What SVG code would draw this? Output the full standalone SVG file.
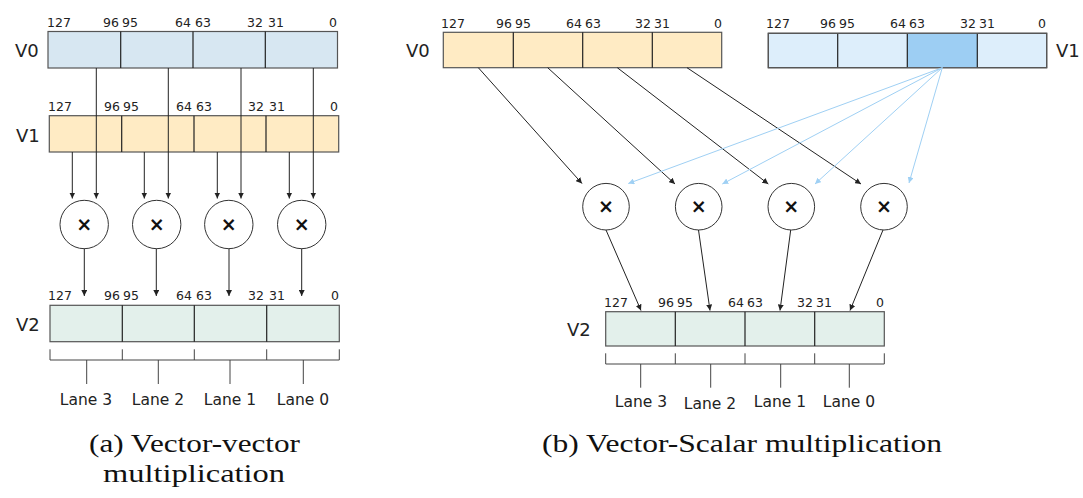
<svg xmlns="http://www.w3.org/2000/svg" width="1083" height="498" viewBox="0 0 1083 498">
<style>
.bits{font-family:"DejaVu Sans","Noto Sans",sans-serif;font-size:12.5px;fill:#222}
.reg{font-family:"DejaVu Sans","Noto Sans",sans-serif;font-size:18px;fill:#222}
.lane{font-family:"DejaVu Sans","Noto Sans",sans-serif;font-size:15.5px;fill:#222;text-anchor:middle}
.cap{font-family:"Liberation Serif",serif;font-size:25px;fill:#111;text-anchor:middle}
.box{stroke:#555;stroke-width:1.2}
.div{stroke:#222;stroke-width:1.2}
.circ{fill:#fff;stroke:#333;stroke-width:1}
.mul{font-family:"DejaVu Sans",sans-serif;font-size:19px;font-weight:bold;fill:#111;text-anchor:middle}
.k{stroke:#222;stroke-width:1;fill:none}
.b{stroke:#9fd0f4;stroke-width:1;fill:none}
.br{stroke:#444;stroke-width:1;fill:none}
</style>
<defs>
<marker id="ak" markerUnits="userSpaceOnUse" markerWidth="7" markerHeight="6" refX="6" refY="3" orient="auto"><path d="M0,0 L6,3 L0,6 z" fill="#222"/></marker>
<marker id="ab" markerUnits="userSpaceOnUse" markerWidth="7" markerHeight="6" refX="6" refY="3" orient="auto"><path d="M0,0 L6,3 L0,6 z" fill="#9fd0f4"/></marker>
</defs>
<rect width="1083" height="498" fill="#fff"/>

<!-- LEFT -->
<g id="a-v0">
<text class="reg" x="15" y="57">V0</text>
<rect class="box" x="48" y="31.5" width="289.5" height="36.5" fill="#d7e7f2"/>
<path class="div" d="M120.7,31.5V68M193,31.5V68M265.3,31.5V68"/>
<text class="bits" x="47" y="27">127</text>
<text class="bits" x="119" y="27" text-anchor="end">96</text>
<text class="bits" x="122" y="27">95</text>
<text class="bits" x="191" y="27" text-anchor="end">64</text>
<text class="bits" x="195" y="27">63</text>
<text class="bits" x="263" y="27" text-anchor="end">32</text>
<text class="bits" x="268" y="27">31</text>
<text class="bits" x="337" y="27" text-anchor="end">0</text>
</g>
<g id="a-v1">
<text class="reg" x="16" y="142">V1</text>
<rect class="box" x="49.3" y="115.7" width="289.4" height="36.3" fill="#ffebc4"/>
<path class="div" d="M121.7,115.7V152M194,115.7V152M266,115.7V152"/>
<text class="bits" x="48" y="111">127</text>
<text class="bits" x="120" y="111" text-anchor="end">96</text>
<text class="bits" x="123" y="111">95</text>
<text class="bits" x="192" y="111" text-anchor="end">64</text>
<text class="bits" x="196" y="111">63</text>
<text class="bits" x="264" y="111" text-anchor="end">32</text>
<text class="bits" x="269" y="111">31</text>
<text class="bits" x="338" y="111" text-anchor="end">0</text>
</g>
<g id="a-m3"><circle class="circ" cx="84.2" cy="224.5" r="24.2"/><text class="mul" x="84.2" y="231">×</text></g>
<g id="a-m2"><circle class="circ" cx="156.7" cy="224.5" r="24.2"/><text class="mul" x="156.7" y="231">×</text></g>
<g id="a-m1"><circle class="circ" cx="228.8" cy="224.5" r="24.2"/><text class="mul" x="228.8" y="231">×</text></g>
<g id="a-m0"><circle class="circ" cx="301.7" cy="224.5" r="24.2"/><text class="mul" x="301.7" y="231">×</text></g>
<g id="a-v2">
<text class="reg" x="16" y="331">V2</text>
<rect class="box" x="50" y="305.3" width="289.3" height="36.4" fill="#e3f0eb"/>
<path class="div" d="M122.3,305.3V341.7M194.3,305.3V341.7M266.7,305.3V341.7"/>
<text class="bits" x="48" y="300">127</text>
<text class="bits" x="120" y="300" text-anchor="end">96</text>
<text class="bits" x="123" y="300">95</text>
<text class="bits" x="192" y="300" text-anchor="end">64</text>
<text class="bits" x="196" y="300">63</text>
<text class="bits" x="264" y="300" text-anchor="end">32</text>
<text class="bits" x="269" y="300">31</text>
<text class="bits" x="339" y="300" text-anchor="end">0</text>
</g>
<g id="a-lanes">
<path class="br" d="M50,349.3V360H339.3V349.3M122.3,349.3V360M194.3,349.3V360M266.7,349.3V360M86.7,360V384M158.3,360V384M230,360V384M303.3,360V384"/>
<text class="lane" x="86" y="405">Lane 3</text>
<text class="lane" x="158" y="405">Lane 2</text>
<text class="lane" x="230" y="405">Lane 1</text>
<text class="lane" x="303" y="405">Lane 0</text>
</g>

<!-- RIGHT -->
<g id="b-v0">
<text class="reg" x="406" y="57">V0</text>
<rect class="box" x="443.3" y="32.3" width="278.4" height="35.4" fill="#ffebc4"/>
<path class="div" d="M513.3,32.3V67.7M582.7,32.3V67.7M652.3,32.3V67.7"/>
<text class="bits" x="441" y="28">127</text>
<text class="bits" x="512" y="28" text-anchor="end">96</text>
<text class="bits" x="515" y="28">95</text>
<text class="bits" x="582" y="28" text-anchor="end">64</text>
<text class="bits" x="585" y="28">63</text>
<text class="bits" x="651" y="28" text-anchor="end">32</text>
<text class="bits" x="654" y="28">31</text>
<text class="bits" x="722" y="28" text-anchor="end">0</text>
</g>
<g id="b-v1">
<rect class="box" x="768.3" y="33.3" width="278.4" height="34.4" fill="#ddeefb"/>
<rect x="907.3" y="33.3" width="70" height="34.4" fill="#9dcef3"/>
<path class="div" d="M837.7,33.3V67.7M907.3,33.3V67.7M977.3,33.3V67.7"/>
<rect x="768.3" y="33.3" width="278.4" height="34.4" fill="none" stroke="#555" stroke-width="1.2"/>
<text class="reg" x="1056" y="57">V1</text>
<text class="bits" x="766" y="28">127</text>
<text class="bits" x="836" y="28" text-anchor="end">96</text>
<text class="bits" x="839" y="28">95</text>
<text class="bits" x="906" y="28" text-anchor="end">64</text>
<text class="bits" x="909" y="28">63</text>
<text class="bits" x="976" y="28" text-anchor="end">32</text>
<text class="bits" x="979" y="28">31</text>
<text class="bits" x="1046" y="28" text-anchor="end">0</text>
</g>
<g id="b-m3"><circle class="circ" cx="606" cy="206.7" r="23.3"/><text class="mul" x="606" y="213">×</text></g>
<g id="b-m2"><circle class="circ" cx="698.7" cy="206.7" r="23.3"/><text class="mul" x="698.7" y="213">×</text></g>
<g id="b-m1"><circle class="circ" cx="791.3" cy="206.7" r="23.3"/><text class="mul" x="791.3" y="213">×</text></g>
<g id="b-m0"><circle class="circ" cx="884" cy="206.7" r="23.3"/><text class="mul" x="884" y="213">×</text></g>
<g id="b-v2">
<text class="reg" x="567" y="336">V2</text>
<rect class="box" x="605.7" y="311.7" width="278.6" height="34.3" fill="#e3f0eb"/>
<path class="div" d="M675.3,311.7V346M745,311.7V346M814.7,311.7V346"/>
<text class="bits" x="604" y="306.7">127</text>
<text class="bits" x="674" y="306.7" text-anchor="end">96</text>
<text class="bits" x="677" y="306.7">95</text>
<text class="bits" x="744" y="306.7" text-anchor="end">64</text>
<text class="bits" x="747" y="306.7">63</text>
<text class="bits" x="813" y="306.7" text-anchor="end">32</text>
<text class="bits" x="816" y="306.7">31</text>
<text class="bits" x="884" y="306.7" text-anchor="end">0</text>
</g>
<g id="b-lanes">
<path class="br" d="M605.7,353.3V364H884.3V353.3M675.3,353.3V364M745,353.3V364M814.7,353.3V364M640.7,364V387.7M710.7,364V387.7M780.7,364V387.7M849.3,364V387.7"/>
<text class="lane" x="641" y="407">Lane 3</text>
<text class="lane" x="710" y="409">Lane 2</text>
<text class="lane" x="780" y="407">Lane 1</text>
<text class="lane" x="849" y="407">Lane 0</text>
</g>

<g id="connectors">
<path class="k" marker-end="url(#ak)" d="M96.3,68V198.5"/>
<path class="k" marker-end="url(#ak)" d="M168.3,68V198.5"/>
<path class="k" marker-end="url(#ak)" d="M241,68V198.5"/>
<path class="k" marker-end="url(#ak)" d="M313.3,68V198.5"/>
<path class="k" marker-end="url(#ak)" d="M72.3,152V198.5"/>
<path class="k" marker-end="url(#ak)" d="M144.3,152V198.5"/>
<path class="k" marker-end="url(#ak)" d="M217.3,152V198.5"/>
<path class="k" marker-end="url(#ak)" d="M289.3,152V198.5"/>
<path class="k" marker-end="url(#ak)" d="M84.3,248.7V296"/>
<path class="k" marker-end="url(#ak)" d="M156.3,248.7V296"/>
<path class="k" marker-end="url(#ak)" d="M229,248.7V296"/>
<path class="k" marker-end="url(#ak)" d="M301.7,248.7V296"/>

<path class="k" marker-end="url(#ak)" d="M478.3,67.7L582,183.5"/>
<path class="k" marker-end="url(#ak)" d="M547.7,67.7L675,184"/>
<path class="k" marker-end="url(#ak)" d="M617.3,67.7L768.3,184"/>
<path class="k" marker-end="url(#ak)" d="M687,67.7L861,184"/>
<path class="b" marker-end="url(#ab)" d="M942.3,67.7L628.3,183.5"/>
<path class="b" marker-end="url(#ab)" d="M942.3,67.7L722.3,184"/>
<path class="b" marker-end="url(#ab)" d="M942.3,67.7L815,184"/>
<path class="b" marker-end="url(#ab)" d="M942.3,67.7L909,183"/>
<path class="k" marker-end="url(#ak)" d="M606,230L641,310.5"/>
<path class="k" marker-end="url(#ak)" d="M698.5,230L710,310.5"/>
<path class="k" marker-end="url(#ak)" d="M790.7,230L780,310.5"/>
<path class="k" marker-end="url(#ak)" d="M883,230L850,310.5"/>
</g>

<g id="captions">
<text class="cap" x="194.5" y="452" textLength="211" lengthAdjust="spacingAndGlyphs">(a) Vector-vector</text>
<text class="cap" x="194" y="482" textLength="182" lengthAdjust="spacingAndGlyphs">multiplication</text>
<text class="cap" x="742" y="452" textLength="400" lengthAdjust="spacingAndGlyphs">(b) Vector-Scalar multiplication</text>
</g>
</svg>
